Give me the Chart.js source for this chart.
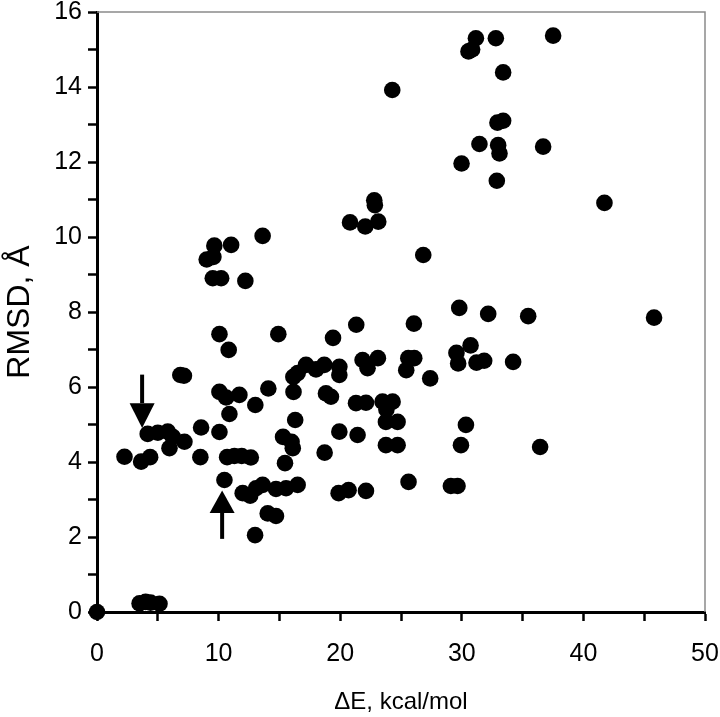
<!DOCTYPE html>
<html>
<head>
<meta charset="utf-8">
<script src="https://cdn.jsdelivr.net/npm/chart.js@4.4.1/dist/chart.umd.min.js"></script>
<style>
html,body{margin:0;padding:0;background:#fff;}
#wrap{width:720px;height:717px;position:relative;}
</style>
</head>
<body>
<div id="wrap"><canvas id="c" width="720" height="717"></canvas></div>
<script>
// Data: ΔE (kcal/mol) and RMSD (Å)
const deltaE = [
  31.16, 32.80, 30.55, 30.85, 37.51, 33.40, 24.28, 32.93, 33.40, 31.45,
  32.99, 33.10, 29.98, 32.88, 36.69, 41.73, 22.80, 22.85, 20.81, 22.06,
  23.13, 26.83, 13.62, 9.65, 11.03, 9.02, 9.57, 9.52, 10.21, 12.20,
  29.79, 32.17, 35.46, 45.81, 21.32, 26.06, 10.07, 14.91, 19.41, 30.72,
  10.83, 29.56, 29.70, 31.21, 31.84, 34.22, 21.84, 23.10, 22.25, 25.60,
  26.09, 25.43, 27.40, 6.85, 7.15, 16.50, 16.15, 17.19, 18.01, 18.69,
  19.93, 19.93, 10.07, 10.62, 11.71, 14.09, 16.16, 18.83, 19.24, 13.02,
  10.89, 21.30, 22.12, 23.48, 24.31, 23.80, 16.30, 23.76, 24.72, 30.34,
  8.56, 10.07, 4.17, 5.82, 6.23, 7.19, 5.96, 5.00, 15.30, 16.00,
  16.10, 19.93, 21.43, 23.76, 24.72, 29.93, 36.44, 18.72, 2.26, 3.63,
  4.37, 8.50, 10.70, 11.30, 11.90, 12.65, 15.46, 10.48, 11.98, 12.60,
  13.08, 13.62, 14.72, 15.55, 16.50, 19.87, 20.69, 22.12, 25.62, 29.10,
  29.65, 14.04, 14.72, 13.00, 3.50, 4.00, 4.40, 5.14, 0.00
];
const rmsd = [
  15.30, 15.30, 14.95, 15.00, 15.37, 14.39, 13.92, 13.05, 13.10, 12.48,
  12.45, 12.23, 11.96, 11.50, 12.41, 10.91, 10.98, 10.85, 10.39, 10.28,
  10.41, 9.52, 10.03, 9.77, 9.79, 9.40, 9.47, 8.90, 8.90, 8.83,
  8.11, 7.95, 7.89, 7.85, 7.66, 7.69, 7.41, 7.41, 7.31, 7.11,
  6.99, 6.91, 6.63, 6.65, 6.70, 6.67, 6.72, 6.77, 6.50, 6.77,
  6.77, 6.45, 6.23, 6.32, 6.30, 6.37, 6.27, 6.59, 6.47, 6.59,
  6.54, 6.32, 5.87, 5.72, 5.79, 5.96, 5.87, 5.83, 5.74, 5.52,
  5.28, 5.57, 5.58, 5.61, 5.61, 5.40, 5.12, 5.07, 5.07, 4.99,
  4.92, 4.80, 4.75, 4.81, 4.67, 4.54, 4.37, 4.78, 4.67, 4.54,
  4.37, 4.81, 4.72, 4.45, 4.45, 4.45, 4.40, 4.25, 4.14, 4.01,
  4.13, 4.13, 4.13, 4.16, 4.16, 4.12, 3.97, 3.52, 3.17, 3.10,
  3.30, 3.39, 3.28, 3.30, 3.39, 3.17, 3.25, 3.23, 3.47, 3.36,
  3.36, 2.63, 2.56, 2.05, 0.23, 0.27, 0.25, 0.22, 0.00
];
// Arrow annotations: [x, yStart(tail), yEnd(tip), yHeadBase]
const arrowDown = [3.71, 6.33, 4.91, 5.57];
const arrowUp = [10.29, 1.95, 3.24, 2.64];

const xTicks = [0, 10, 20, 30, 40, 50];
const yTicks = [0, 2, 4, 6, 8, 10, 12, 14, 16];

const points = deltaE.map((x, i) => ({x: x, y: rmsd[i]}));

const FONT = "'Liberation Sans', Arial, sans-serif";

const framePlugin = {
  id: 'frame',
  beforeDatasetsDraw(chart) {
    const {ctx, chartArea: a} = chart;
    ctx.save();
    ctx.strokeStyle = '#8a8a8a';
    ctx.lineWidth = 1.5;
    ctx.beginPath();
    ctx.moveTo(a.left, a.top);
    ctx.lineTo(a.right, a.top);
    ctx.lineTo(a.right, a.bottom);
    ctx.stroke();
    ctx.restore();
  },
  afterDatasetsDraw(chart) {
    const {ctx} = chart;
    const xs = chart.scales.x, ys = chart.scales.y;
    function arrow(spec) {
      const x = xs.getPixelForValue(spec[0]);
      const y0 = ys.getPixelForValue(spec[1]);
      const y1 = ys.getPixelForValue(spec[2]);
      const yb = ys.getPixelForValue(spec[3]);
      ctx.save();
      ctx.strokeStyle = '#000';
      ctx.fillStyle = '#000';
      ctx.lineWidth = 4;
      ctx.beginPath();
      ctx.moveTo(x, y0);
      ctx.lineTo(x, yb);
      ctx.stroke();
      ctx.beginPath();
      ctx.moveTo(x - 12.5, yb);
      ctx.lineTo(x + 12.5, yb);
      ctx.lineTo(x, y1);
      ctx.closePath();
      ctx.fill();
      ctx.restore();
    }
    arrow(arrowDown);
    arrow(arrowUp);
  }
};

new Chart(document.getElementById('c'), {
  type: 'scatter',
  data: {
    datasets: [{
      data: points,
      backgroundColor: '#000',
      borderColor: '#000',
      borderWidth: 0,
      pointRadius: 8.3,
      pointHoverRadius: 8.3,
      clip: false
    }]
  },
  options: {
    responsive: false,
    animation: false,
    events: [],
    layout: {padding: {top: 12, right: 15, left: 0, bottom: 0}},
    plugins: {legend: {display: false}, tooltip: {enabled: false}},
    scales: {
      x: {
        type: 'linear',
        min: 0, max: 50,
        afterFit(s) { s.height = 105; s.paddingLeft = 0; s.paddingRight = 0; },
        ticks: {
          stepSize: 5,
          autoSkip: false,
          maxRotation: 0,
          color: '#000',
          padding: 18,
          font: {family: FONT, size: 25},
          callback: (v) => xTicks.includes(v) ? String(v) : ''
        },
        grid: {display: true, drawOnChartArea: false, drawTicks: true, tickLength: 9, tickColor: '#000', tickWidth: 2.5},
        border: {display: true, color: '#000', width: 3},
        title: {display: true, text: 'ΔE, kcal/mol', color: '#000', font: {family: FONT, size: 24}, padding: {top: 4, bottom: 0}}
      },
      y: {
        type: 'linear',
        min: 0, max: 16,
        afterFit(s) { s.width = 97; s.paddingTop = 0; s.paddingBottom = 0; },
        ticks: {
          stepSize: 1,
          autoSkip: false,
          color: '#000',
          padding: 6,
          font: {family: FONT, size: 25},
          callback: (v) => yTicks.includes(v) ? String(v) : ''
        },
        grid: {display: true, drawOnChartArea: false, drawTicks: true, tickLength: 9, tickColor: '#000', tickWidth: 2.5},
        border: {display: true, color: '#000', width: 3},
        title: {display: true, text: 'RMSD, Å', color: '#000', font: {family: FONT, size: 32}, padding: {top: 1, bottom: 0}}
      }
    }
  },
  plugins: [framePlugin]
});
</script>
</body>
</html>
